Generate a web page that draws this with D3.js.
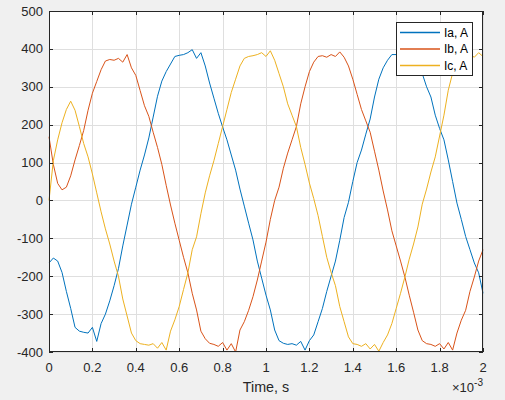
<!DOCTYPE html>
<html lang="en">
<head>
    <meta charset="UTF-8">
    <title>Three Phase Currents</title>
    <style>
        body {
            background-color: #f0f0f0;
            margin: 0;
            overflow: hidden;
            font-family: "Liberation Sans", Arial, sans-serif;
        }
        svg {
            display: block;
        }
        .tick-label {
            font-size: 13px;
            fill: #262626;
        }
        .axis-label {
            font-size: 14.3px;
            fill: #262626;
        }
        .legend text {
            font-size: 12px;
            fill: #000;
        }
    </style>
</head>
<body>
    <svg id="chart"></svg>

    <script src="https://d3js.org/d3.v7.min.js"></script>
    <script>
        // time in ms (shown with x10^-3 multiplier), step 0.02 ms
        const timeStep = 0.02;

        const ia = [
            -165, -152, -160, -190, -240, -285, -335, -345, -348, -350,
            -335, -372, -325, -300, -265, -225, -180, -120, -65, -10,
            35, 80, 120, 165, 220, 275, 315, 340, 360, 380,
            383, 385, 390, 398, 375, 390, 355, 310, 270, 230,
            194, 160, 120, 80, 30, -15, -60, -104, -160, -205,
            -250, -289, -342, -370, -377, -380, -378, -382, -372, -395,
            -370, -355, -320, -285, -240, -200, -160, -105, -45, -5,
            50, 100, 133, 175, 215, 273, 320, 350, 370, 385,
            385, 390, 395, 385, 390, 365, 335, 300, 273, 225,
            190, 160, 107, 50, -7, -50, -95, -130, -165, -191,
            -245
        ];

        const ib = [
            168, 95, 45, 28, 35, 65, 107, 145, 185, 238,
            283, 314, 345, 368, 372, 370, 375, 365, 385, 350,
            330, 290, 250, 222, 180, 140, 95, 40, -12, -60,
            -105, -150, -191, -245, -289, -345, -365, -377, -380, -385,
            -375, -395, -378, -400, -342, -320, -290, -254, -210, -160,
            -110, -50, 0, 35, 85, 125, 160, 195, 255, 300,
            340, 365, 380, 382, 378, 385, 380, 392, 378, 355,
            320, 280, 240, 210, 180, 130, 80, 25, -25, -80,
            -120, -160, -202, -250, -295, -342, -370, -378, -380, -385,
            -378, -392, -375, -395, -350, -316, -290, -240, -202, -160,
            -130
        ];

        const ic = [
            0, 105, 160, 205, 240, 262, 238, 195, 150, 115,
            70, 20, -30, -75, -115, -160, -200, -260, -305, -350,
            -370, -378, -380, -382, -378, -390, -375, -395, -345, -315,
            -280, -235, -191, -130, -96, -35, 20, 65, 105, 150,
            195, 240, 285, 320, 355, 375, 380, 382, 385, 390,
            380, 395, 370, 335, 300, 255, 225, 195, 140, 95,
            46, 5, -40, -95, -150, -190, -225, -280, -320, -360,
            -378, -380, -385, -378, -392, -380, -398, -375, -355, -325,
            -285, -245, -202, -155, -115, -70, -10, 30, 75, 115,
            170, 225, 291, 336, 360, 375, 380, 385, 378, 390,
            380
        ];

        const seriesNames = ["Ia, A", "Ib, A", "Ic, A"];
        const seriesColors = ["#0072bd", "#d95319", "#edb120"];
        const xTicks = [0, 0.2, 0.4, 0.6, 0.8, 1, 1.2, 1.4, 1.6, 1.8, 2];
        const yTicks = [-400, -300, -200, -100, 0, 100, 200, 300, 400, 500];

        const W = 505, H = 400;
        const margin = { top: 11, right: 22, bottom: 48, left: 49 },
              width = W - margin.left - margin.right,
              height = H - margin.top - margin.bottom;

        const svg = d3.select("#chart")
            .attr("width", W)
            .attr("height", H);

        svg.append("rect")
            .attr("width", W)
            .attr("height", H)
            .attr("fill", "#f0f0f0");

        const g = svg.append("g")
            .attr("transform", `translate(${margin.left},${margin.top})`);

        const x = d3.scaleLinear().domain([0, 2]).range([0, width]);
        const y = d3.scaleLinear().domain([-400, 500]).range([height, 0]);

        // white plot area
        g.append("rect")
            .attr("width", width)
            .attr("height", height)
            .attr("fill", "#ffffff");

        // grid
        g.append("g")
            .selectAll("line")
            .data(xTicks)
            .join("line")
            .attr("x1", d => Math.round(x(d)) + 0.5)
            .attr("x2", d => Math.round(x(d)) + 0.5)
            .attr("y1", 0)
            .attr("y2", height)
            .attr("stroke", "#dfdfdf")
            .attr("stroke-width", 1);

        g.append("g")
            .selectAll("line")
            .data(yTicks)
            .join("line")
            .attr("y1", d => Math.round(y(d)) + 0.5)
            .attr("y2", d => Math.round(y(d)) + 0.5)
            .attr("x1", 0)
            .attr("x2", width)
            .attr("stroke", "#dfdfdf")
            .attr("stroke-width", 1);

        // lines
        const line = d3.line()
            .x((d, i) => x(i * timeStep))
            .y(d => y(d));

        [ia, ib, ic].forEach((data, k) => {
            g.append("path")
                .datum(data)
                .attr("fill", "none")
                .attr("stroke", seriesColors[k])
                .attr("stroke-width", 1)
                .attr("stroke-linejoin", "round")
                .attr("d", line);
        });

        // axes with inward ticks on all four sides
        const tickLen = 4;
        const axes = g.append("g")
            .attr("stroke", "#262626")
            .attr("stroke-width", 1)
            .attr("shape-rendering", "crispEdges");

        xTicks.forEach(d => {
            const px = Math.round(x(d)) + 0.5;
            axes.append("line").attr("x1", px).attr("x2", px).attr("y1", height).attr("y2", height - tickLen);
            axes.append("line").attr("x1", px).attr("x2", px).attr("y1", 0).attr("y2", tickLen);
        });
        yTicks.forEach(d => {
            const py = Math.round(y(d)) + 0.5;
            axes.append("line").attr("x1", 0).attr("x2", tickLen).attr("y1", py).attr("y2", py);
            axes.append("line").attr("x1", width).attr("x2", width - tickLen).attr("y1", py).attr("y2", py);
        });

        axes.append("rect")
            .attr("x", 0.5)
            .attr("y", 0.5)
            .attr("width", width - 1)
            .attr("height", height - 1)
            .attr("fill", "none");

        // tick labels
        g.append("g")
            .selectAll("text")
            .data(xTicks)
            .join("text")
            .attr("class", "tick-label")
            .attr("x", d => x(d))
            .attr("y", height + 20)
            .attr("text-anchor", "middle")
            .text(d => d3.format("")(d));

        g.append("g")
            .selectAll("text")
            .data(yTicks)
            .join("text")
            .attr("class", "tick-label")
            .attr("x", -6)
            .attr("y", d => y(d))
            .attr("dy", "0.35em")
            .attr("text-anchor", "end")
            .text(d => d < 0 ? "-" + Math.abs(d) : d);

        // x-axis label
        g.append("text")
            .attr("class", "axis-label")
            .attr("x", width / 2)
            .attr("y", height + 40)
            .attr("text-anchor", "middle")
            .text("Time, s");

        // exponent multiplier
        const expo = g.append("text")
            .attr("class", "tick-label")
            .attr("x", width)
            .attr("y", height + 40)
            .attr("text-anchor", "end");
        expo.append("tspan").text("\u00d710");
        expo.append("tspan")
            .attr("dy", -6)
            .style("font-size", "10px")
            .text("-3");

        // legend
        const legend = g.append("g")
            .attr("class", "legend")
            .attr("transform", `translate(${396 - margin.left}, ${22 - margin.top})`);

        legend.append("rect")
            .attr("x", 0.5)
            .attr("y", 0.5)
            .attr("width", 76)
            .attr("height", 53)
            .attr("fill", "#ffffff")
            .attr("stroke", "#262626")
            .attr("stroke-width", 1);

        seriesNames.forEach((name, k) => {
            const ly = 10.5 + k * 16.5;
            legend.append("line")
                .attr("x1", 4)
                .attr("x2", 44)
                .attr("y1", ly)
                .attr("y2", ly)
                .attr("stroke", seriesColors[k])
                .attr("stroke-width", 1.5);
            legend.append("text")
                .attr("x", 48)
                .attr("y", ly)
                .attr("dy", "0.35em")
                .text(name);
        });
    </script>
</body>
</html>
